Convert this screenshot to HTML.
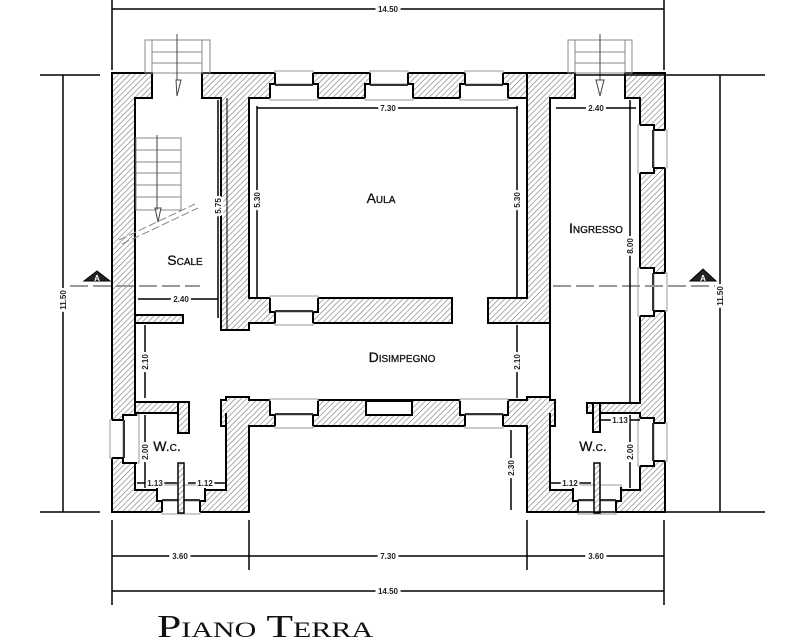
<!DOCTYPE html>
<html><head><meta charset="utf-8"><style>
html,body{margin:0;padding:0;background:#fff;}
svg{display:block;}
.t{font-family:"Liberation Sans",sans-serif;font-size:8px;font-weight:bold;fill:#222;}
.lb{font-family:"Liberation Sans",sans-serif;font-size:14px;font-variant:small-caps;fill:#111;stroke:#111;stroke-width:0.3;}
</style></head><body>
<svg width="800" height="641" viewBox="0 0 800 641" xmlns="http://www.w3.org/2000/svg">
<defs>
<pattern id="h" width="4" height="4" patternUnits="userSpaceOnUse" patternTransform="rotate(45)">
<rect width="4" height="4" fill="#fff"/><line x1="0" y1="0" x2="0" y2="4" stroke="#777" stroke-width="1.2"/>
</pattern>
<g id="wh">
<rect x="5" y="-2" width="38" height="13" fill="#fff" stroke="#999" stroke-width="1"/>
<rect x="0" y="11" width="48" height="16" fill="#fff" stroke="#999" stroke-width="1"/>
<path d="M5,0 V11 H0 V25 M43,0 V11 H48 V25" stroke="#000" stroke-width="2" fill="none"/>
<line x1="5" y1="12" x2="43" y2="12" stroke="#333" stroke-width="2"/>
</g>
</defs>
<g fill="url(#h)" stroke="#000" stroke-width="2">
<rect x="112" y="73" width="23" height="439"/>
<rect x="112" y="73" width="40" height="25"/>
<rect x="202" y="73" width="325" height="25"/>
<rect x="221" y="73" width="28" height="257"/>
<rect x="527" y="73" width="48" height="25"/>
<rect x="527" y="73" width="23" height="250"/>
<rect x="488" y="298" width="62" height="25"/>
<rect x="625" y="73" width="40" height="25"/>
<rect x="640" y="73" width="25" height="439"/>
<rect x="221" y="298" width="231" height="25"/>
<rect x="135" y="315" width="48" height="8"/>
<rect x="135" y="402" width="54" height="11"/>
<rect x="178" y="402" width="11" height="31"/>
<rect x="226" y="397" width="23" height="115"/>
<rect x="112" y="490" width="137" height="22"/>
<rect x="221" y="400" width="334" height="26"/>
<rect x="527" y="397" width="23" height="115"/>
<rect x="587" y="403" width="55" height="10"/>
<rect x="593" y="403" width="7" height="29"/>
<rect x="527" y="490" width="138" height="22"/>
</g>
<g fill="url(#h)" stroke="none">
<rect x="113" y="74" width="21" height="437"/>
<rect x="113" y="74" width="38" height="23"/>
<rect x="203" y="74" width="323" height="23"/>
<rect x="222" y="74" width="26" height="255"/>
<rect x="528" y="74" width="46" height="23"/>
<rect x="528" y="74" width="21" height="248"/>
<rect x="489" y="299" width="60" height="23"/>
<rect x="626" y="74" width="38" height="23"/>
<rect x="641" y="74" width="23" height="437"/>
<rect x="222" y="299" width="229" height="23"/>
<rect x="113" y="491" width="135" height="20"/>
<rect x="227" y="398" width="21" height="113"/>
<rect x="222" y="401" width="332" height="24"/>
<rect x="528" y="398" width="21" height="113"/>
<rect x="528" y="491" width="136" height="20"/>
<rect x="250" y="427" width="276" height="85" fill="#fff"/>
</g>
<g fill="none" stroke="#000" stroke-width="2">
<path d="M249,426 V512 M527,426 V512 M249,426 H527"/>
<path d="M135,98 V315 M135,323 V402 M135,413 V490 M249,98 V298 M527,98 V298 M550,98 V298 M550,323 V397"/>
<path d="M221,97 V330 M640,98 V403 M550,413 V490 M640,413 V490 M226,413 V490"/>
<line x1="227" y1="98" x2="227" y2="330" stroke-width="1"/>
</g>
<use href="#wh" transform="translate(270,73)"/>
<use href="#wh" transform="translate(365,73)"/>
<use href="#wh" transform="translate(460,73)"/>
<use href="#wh" transform="translate(270,323) scale(1,-1)"/>
<use href="#wh" transform="translate(270,426) scale(1,-1)"/>
<use href="#wh" transform="translate(460,426) scale(1,-1)"/>
<rect x="366" y="401" width="46" height="14" fill="#fff" stroke="#000" stroke-width="2"/>
<use href="#wh" transform="translate(665,125) rotate(90)"/>
<use href="#wh" transform="translate(665,268) rotate(90)"/>
<use href="#wh" transform="translate(665,418) rotate(90)"/>
<use href="#wh" transform="matrix(0,1,1,0,112,415)"/>
<use href="#wh" transform="translate(157,512) scale(1,-1)"/>
<use href="#wh" transform="translate(573,512) scale(1,-1)"/>
<rect x="178" y="463" width="6" height="50" fill="url(#h)" stroke="#000" stroke-width="1.5"/>
<rect x="594" y="463" width="6" height="50" fill="url(#h)" stroke="#000" stroke-width="1.5"/>
<g stroke="#888" stroke-width="1" fill="none">
<rect x="145" y="40" width="65" height="33"/>
<path d="M152,40 V73 M202,40 V73 M152,52 H202 M152,63 H202"/>
<rect x="136" y="138" width="45" height="72"/>
<path d="M136,150 H181 M136,162 H181 M136,173 H181 M136,185 H181 M136,197 H181"/>
<rect x="568" y="40" width="64" height="33"/>
<path d="M575,40 V73 M625,40 V73 M575,52 H625 M575,63 H625"/>
<path d="M119,240 L195,204 M122,244 L198,208" stroke-dasharray="8,3"/>
</g>
<g stroke="#444" stroke-width="1" fill="#fff">
<path d="M177,34 V80 M176,80 L181,80 L177,96 Z M157,135 V210 M155,208 L161,208 L158,222 Z M600,34 V80 M596,80 L604,80 L600,96 Z"/>
</g>
<g stroke="#999" stroke-width="2" stroke-dasharray="18,5">
<line x1="70" y1="286" x2="200" y2="286"/><line x1="553" y1="286" x2="715" y2="286"/>
</g>
<path d="M84,281 L97,271 L110,281 Z" fill="#222" stroke="#000" stroke-width="1"/>
<path d="M690,281 L703,269 L716,281 Z" fill="#222" stroke="#000" stroke-width="1"/>
<text x="97" y="281" font-family="Liberation Sans,sans-serif" font-size="8" font-weight="bold" fill="#fff" text-anchor="middle">A</text>
<text x="703" y="281" font-family="Liberation Sans,sans-serif" font-size="8" font-weight="bold" fill="#fff" text-anchor="middle">A</text>
<g stroke="#000" stroke-width="1.5" fill="none">
<path d="M112,0 V70 M664,0 V70 M112,9 H664"/>
<path d="M40,75 H100 M40,512 H100 M63,75 V512"/>
<path d="M575,75 H765 M575,512 H765 M720,75 V512"/>
<path d="M112,520 V605 M249,520 V570 M527,520 V570 M664,520 V605 M112,556 H664 M112,591 H664"/>
<path d="M257,108 H518 M556,108 H636 M257,106 V298 M517,106 V298 M218,100 V318 M630,100 V402 M138,299 H218"/>
<path d="M145,325 V398 M517,325 V398 M145,415 V488 M630,415 V488 M511,430 V510"/>
<path d="M137,483 H177 M188,483 H225 M550,483 H591 M600,420 H640"/>
</g>
<g class="t" text-anchor="middle">
<text x="388" y="12" stroke="#fff" stroke-width="6" paint-order="stroke">14.50</text>
<text x="388" y="111" stroke="#fff" stroke-width="5" paint-order="stroke">7.30</text>
<text x="596" y="111" stroke="#fff" stroke-width="5" paint-order="stroke">2.40</text>
<text x="181" y="302" stroke="#fff" stroke-width="5" paint-order="stroke">2.40</text>
<text x="155" y="486" stroke="#fff" stroke-width="4" paint-order="stroke">1.13</text>
<text x="205" y="486" stroke="#fff" stroke-width="4" paint-order="stroke">1.12</text>
<text x="570" y="486" stroke="#fff" stroke-width="4" paint-order="stroke">1.12</text>
<text x="620" y="423" stroke="#fff" stroke-width="4" paint-order="stroke">1.13</text>
<text x="180" y="559" stroke="#fff" stroke-width="6" paint-order="stroke">3.60</text>
<text x="388" y="559" stroke="#fff" stroke-width="6" paint-order="stroke">7.30</text>
<text x="596" y="559" stroke="#fff" stroke-width="6" paint-order="stroke">3.60</text>
<text x="388" y="594" stroke="#fff" stroke-width="6" paint-order="stroke">14.50</text>
<g stroke="#fff" stroke-width="5" paint-order="stroke">
<text transform="translate(66,300) rotate(-90)">11.50</text>
<text transform="translate(723,296) rotate(-90)">11.50</text>
<text transform="translate(221,206) rotate(-90)">5.75</text>
<text transform="translate(260,200) rotate(-90)">5.30</text>
<text transform="translate(520,200) rotate(-90)">5.30</text>
<text transform="translate(633,246) rotate(-90)">8.00</text>
<text transform="translate(148,362) rotate(-90)">2.10</text>
<text transform="translate(520,362) rotate(-90)">2.10</text>
<text transform="translate(148,452) rotate(-90)">2.00</text>
<text transform="translate(633,452) rotate(-90)">2.00</text>
<text transform="translate(514,468) rotate(-90)">2.30</text>
</g>
</g>
<g class="lb" text-anchor="middle">
<text x="381" y="203">Aula</text>
<text x="185" y="265">Scale</text>
<text x="596" y="233">Ingresso</text>
<text x="402" y="362">Disimpegno</text>
<text x="167" y="451">W.c.</text>
<text x="593" y="451">W.c.</text>
</g>
<text x="157" y="637" font-family="'Liberation Serif',serif" font-size="32" font-variant="small-caps" fill="#111" textLength="216" lengthAdjust="spacingAndGlyphs">Piano Terra</text>
</svg>
</body></html>
